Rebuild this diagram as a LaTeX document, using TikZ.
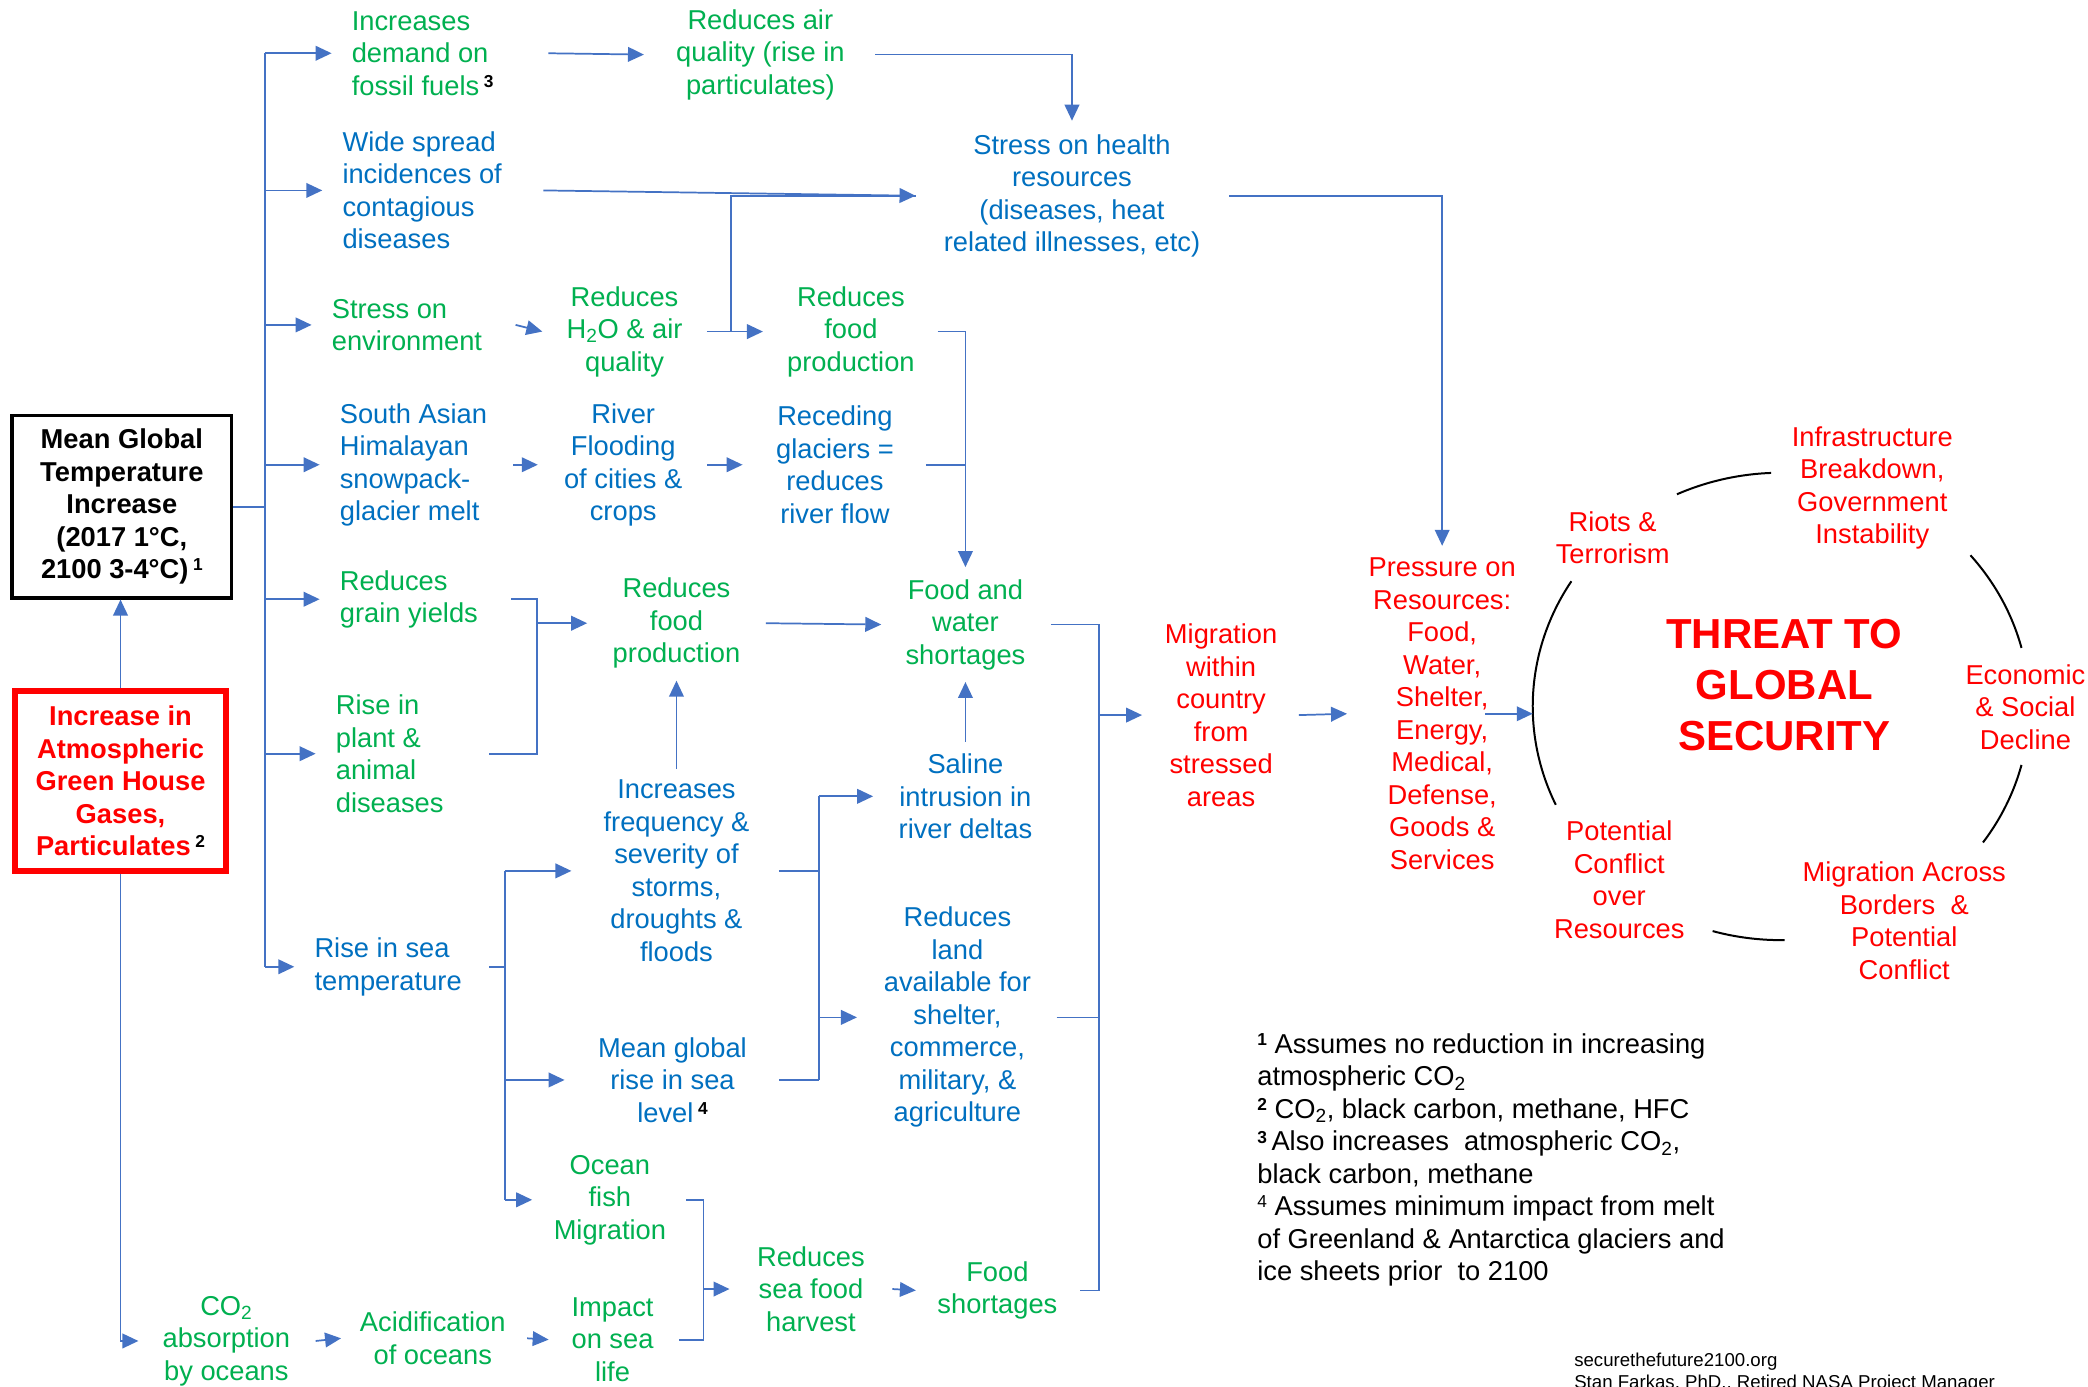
\documentclass[tikz,border=0pt]{standalone}
\usepackage{fontspec}
\setmainfont{Liberation Sans}
\usetikzlibrary{arrows.meta,calc}
\definecolor{cgreen}{HTML}{00B050}
\definecolor{cblue}{HTML}{0070C0}
\definecolor{cred}{HTML}{FF0000}
\definecolor{cline}{HTML}{4472C4}
\newcommand\mainsz{\fontsize{20.5}{24.4}\selectfont}
\newcommand\threatsz{\fontsize{31.5}{38.5}\selectfont}
\newcommand\fnm[1]{\raisebox{0.55ex}{\fontsize{13}{13}\selectfont\bfseries\color{black}#1}}
\newcommand\fnn[1]{\raisebox{0.55ex}{\fontsize{13}{13}\selectfont\color{black}#1}}
\begin{document}
\begin{tikzpicture}[x=1pt,y=-1pt,
  txt/.style={inner sep=0pt, font=\mainsz, align=center},
  gtxt/.style={txt, text=cgreen},
  btxt/.style={txt, text=cblue},
  rtxt/.style={txt, text=cred},
  ltxt/.style={align=left, anchor=west},
  conn/.style={draw=cline, line width=1.3pt},
  arr/.style={conn, -{Triangle[length=12pt,width=11pt]}},
  ring/.style={draw=black, line width=1.5pt}]
\fill[white] (0,0) rectangle (1568,1041);
\useasboundingbox (0,0) rectangle (1568,1041);

% boxes
\node[draw=black, line width=2.5pt, minimum width=165pt, minimum height=137pt, inner sep=0pt,
      font={\mainsz\bfseries}, align=center] (mgt) at (91.5,380.5)
  {Mean Global\\Temperature\\Increase\\(2017 1°C,\\2100 3-4°C)\,\fnn{1}};
\node[draw=cred, line width=4.5pt, text=cred, minimum width=158.5pt, minimum height=134.5pt, inner sep=0pt,
      font={\mainsz\bfseries}, align=center] (ghg) at (90.5,586.5)
  {Increase in\\Atmospheric\\Green House\\Gases,\\Particulates\,\fnm{2}};

% first column (left aligned)
\node[gtxt,ltxt] (dem) at (264,40) {Increases\\demand on\\fossil fuels\,\fnm{3}};
\node[btxt,ltxt] (wide) at (257,143) {Wide spread\\incidences of\\contagious\\diseases};
\node[gtxt,ltxt] (env) at (249,244) {Stress on\\environment};
\node[btxt,ltxt] (sa) at (255,349) {South Asian\\Himalayan\\snowpack-\\glacier melt};
\node[gtxt,ltxt] (grain) at (255,450) {Reduces\\grain yields};
\node[gtxt,ltxt] (plant) at (252,566) {Rise in\\plant \&\\animal\\diseases};
\node[btxt,ltxt] (seatemp) at (236,726) {Rise in sea\\temperature};

% other nodes
\node[gtxt] (air) at (571,41) {Reduces air\\quality (rise in\\particulates)};
\node[btxt] (health) at (805,147) {Stress on health\\resources\\(diseases, heat\\related illnesses, etc)};
\node[gtxt] (h2o) at (469,249) {Reduces\\H\textsubscript{2}O \& air\\quality};
\node[gtxt] (food1) at (639,249) {Reduces\\food\\production};
\node[btxt] (flood) at (468,349) {River\\Flooding\\of cities \&\\crops};
\node[btxt] (glac) at (627,349) {Receding\\glaciers =\\reduces\\river flow};
\node[gtxt] (food2) at (508,468) {Reduces\\food\\production};
\node[gtxt] (fws) at (725,469) {Food and\\water\\shortages};
\node[btxt] (storms) at (508,654) {Increases\\frequency \&\\severity of\\storms,\\droughts \&\\floods};
\node[btxt] (saline) at (725,598) {Saline\\intrusion in\\river deltas};
\node[btxt] (land) at (719,764) {Reduces\\land\\available for\\shelter,\\commerce,\\military, \&\\agriculture};
\node[btxt] (msl) at (505,811) {Mean global\\rise in sea\\level\,\fnm{4}};
\node[gtxt] (fish) at (458,901) {Ocean\\fish\\Migration};
\node[gtxt] (co2) at (170,1007) {CO\textsubscript{2}\\absorption\\by oceans};
\node[gtxt] (acid) at (325,1005) {Acidification\\of oceans};
\node[gtxt] (impact) at (460,1006) {Impact\\on sea\\life};
\node[gtxt] (seafood) at (609,968) {Reduces\\sea food\\harvest};
\node[gtxt] (fshort) at (749,969) {Food\\shortages};
\node[rtxt] (migr) at (917,537) {Migration\\within\\country\\from\\stressed\\areas};
\node[rtxt] (press) at (1083,536) {Pressure on\\Resources:\\Food,\\Water,\\Shelter,\\Energy,\\Medical,\\Defense,\\Goods \&\\Services};

% circle
\coordinate (cc) at (1337.5,530.5);
\coordinate (cleft) at (1151,530.5);
\node[rtxt, font={\threatsz\bfseries}] (threat) at (1340,514.5) {THREAT TO\\GLOBAL\\SECURITY};
\node[rtxt] (riots) at (1211,404) {Riots \&\\Terrorism};
\node[rtxt] (infra) at (1406,366.5) {Infrastructure\\Breakdown,\\Government\\Instability};
\node[rtxt] (econ) at (1521,531) {Economic\\\& Social\\Decline};
\node[rtxt] (migx) at (1430,691.5) {Migration Across\\Borders\ \ \&\\Potential\\Conflict};
\node[rtxt] (conf) at (1216,660.5) {Potential\\Conflict\\over\\Resources};
\foreach \a/\b in {147.6/204.9, 92.3/114.8, 14.5/40.3, -35.6/-14.5, 254/270.8}
  \draw[ring] ($(cc)+(\a:186.5pt and 175.5pt)$) arc[start angle=\a, end angle=\b, x radius=186.5pt, y radius=175.5pt];

% notes
\node[inner sep=0pt, font=\mainsz, align=left, anchor=north west] (notes) at (944,776)
  {\fnm{1} Assumes no reduction in increasing\\atmospheric CO\textsubscript{2}\\\fnm{2} CO\textsubscript{2}, black carbon, methane, HFC\\\fnm{3}\,Also increases\ \ atmospheric CO\textsubscript{2},\\black carbon, methane\\\fnn{4} Assumes minimum impact from melt\\of Greenland \& Antarctica glaciers and\\ice sheets prior\ \ to 2100};
\node[inner sep=0pt, font=\fontsize{14}{16.5}\selectfont, align=left, anchor=north west] (web) at (1182,1016)
  {securethefuture2100.org\\Stan Farkas, PhD.,\ Retired NASA Project Manager};

% connectors
\draw[arr] (ghg.north) -- (ghg.north |- mgt.south);
\draw[arr] (ghg.south) |- ([xshift=-18pt]co2.west);
\coordinate (trunk) at (199,380);
\draw[conn] (mgt.east) -- (trunk |- mgt.east);
\draw[conn] (trunk |- dem.west) -- (trunk |- seatemp.west);
\foreach \n in {dem,wide,env,sa,grain,plant,seatemp}
  \draw[arr] (trunk |- \n.west) -- ([xshift=-15pt]\n.west);

\draw[arr] ([xshift=41pt]dem.east) -- ([xshift=-24pt]air.west);
\draw[arr] ([xshift=23pt]air.east) -| ([yshift=10pt]health.north);
\draw[arr] ([xshift=31pt]wide.east) -- ([xshift=-21pt]health.west);
\draw[arr] ([xshift=25pt]env.east) -- ([xshift=-18pt]h2o.west);
\draw[arr] ([xshift=18pt]h2o.east) -- ([xshift=-18pt]food1.west);
\draw[conn] ($(h2o.east)+(36pt,0pt)$) |- ([xshift=-21pt]health.west);
\draw[arr] ([xshift=17pt]food1.east) -| ([yshift=9pt]fws.north);
\draw[conn] ([xshift=24pt]glac.east) -- (fws.north |- glac.east);
\draw[arr] ([xshift=19.5pt]sa.east) -- ([xshift=-19.5pt]flood.west);
\draw[arr] ([xshift=18.5pt]flood.east) -- ([xshift=-25pt]glac.west);

\coordinate (gb) at ($(grain.east)+(44pt,0pt)$);
\draw[conn] ([xshift=25pt]grain.east) -| (gb |- plant.east) -- ([xshift=34pt]plant.east);
\draw[arr] (gb |- food2.west) -- ([xshift=-19pt]food2.west);
\draw[arr] ([xshift=19pt]food2.east) -- ([xshift=-18pt]fws.west);
\draw[arr] ([yshift=8pt]storms.north) -- ([yshift=-9pt]food2.south);
\draw[arr] ([yshift=9pt]saline.north) -- ([yshift=-9pt]fws.south);

\coordinate (sb) at ($(seatemp.east)+(32.5pt,0pt)$);
\draw[conn] ([xshift=20.5pt]seatemp.east) -- (sb);
\draw[conn] (sb |- storms.west) -- (sb |- fish.west);
\draw[arr] (sb |- storms.west) -- ([xshift=-24pt]storms.west);
\draw[arr] (sb |- msl.west) -- ([xshift=-25pt]msl.west);
\draw[arr] (sb |- fish.west) -- ([xshift=-16pt]fish.west);

\coordinate (mb) at ($(storms.east)+(52pt,0pt)$);
\draw[conn] ([xshift=22pt]storms.east) -- (mb |- storms.east);
\draw[conn] ([xshift=24pt]msl.east) -- (mb |- msl.east);
\draw[conn] (mb |- saline.west) -- (mb |- msl.east);
\draw[arr] (mb |- saline.west) -- ([xshift=-19pt]saline.west);
\draw[arr] (mb |- land.west) -- ([xshift=-20pt]land.west);

\coordinate (fb) at ($(fish.east)+(28pt,0pt)$);
\draw[conn] ([xshift=15pt]fish.east) -| (fb |- impact.east) -- ([xshift=19pt]impact.east);
\draw[arr] (fb |- seafood.west) -- ([xshift=-20.5pt]seafood.west);
\draw[arr] ([xshift=20.5pt]seafood.east) -- ([xshift=-16pt]fshort.west);
\draw[arr] ([xshift=19pt]co2.east) -- ([xshift=-14pt]acid.west);
\draw[arr] ([xshift=16pt]acid.east) -- ([xshift=-17pt]impact.west);

\coordinate (rb) at ($(fws.east)+(55pt,0pt)$);
\draw[conn] ([xshift=19pt]fws.east) -| (rb |- fshort.east) -- ([xshift=17pt]fshort.east);
\draw[conn] ([xshift=19pt]land.east) -- (rb |- land.east);
\draw[arr] (rb |- migr.west) -- ([xshift=-17pt]migr.west);
\draw[arr] ([xshift=16pt]migr.east) -- ([xshift=-16pt]press.west);
\draw[arr] ([xshift=21.5pt]health.east) -| ([yshift=9pt]press.north);
\draw[arr] ([xshift=-23pt]press.east) -- (cleft |- press.east);
\end{tikzpicture}
\end{document}
